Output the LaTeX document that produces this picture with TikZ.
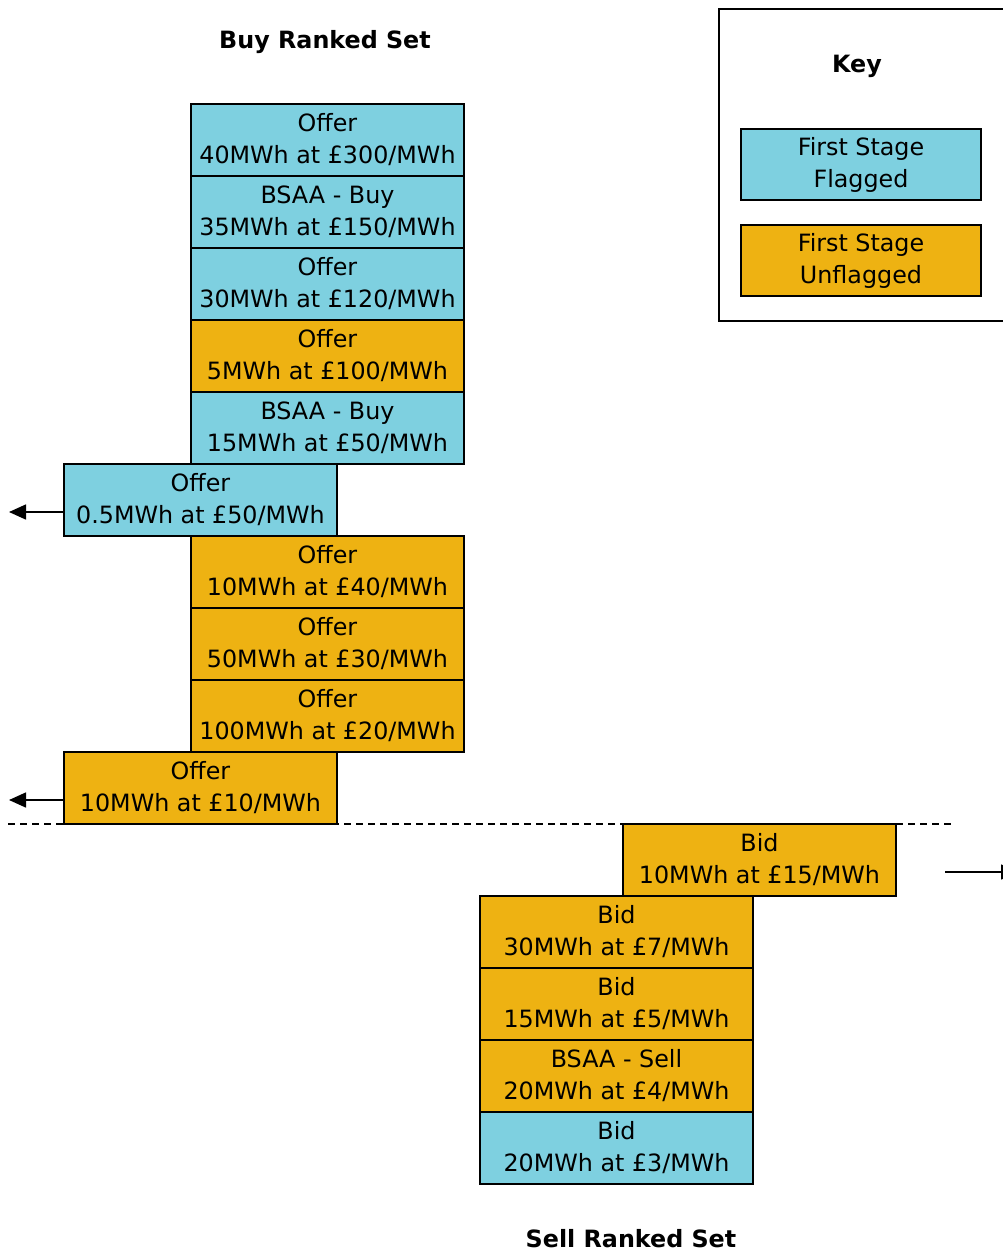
\documentclass[tikz,border=0pt]{standalone}
\usepackage{fontspec}
\setmainfont{DejaVu Sans}
\usetikzlibrary{arrows.meta}
\definecolor{flagged}{RGB}{126,208,224}
\definecolor{unflagged}{RGB}{238,178,18}
\begin{document}
\begin{tikzpicture}[x=1pt,y=-1pt,
  lbl/.style={font=\fontsize{23.8}{32}\selectfont, align=center},
  entry/.style={lbl, draw=black, line width=2pt, anchor=north west,
    minimum width=273pt, minimum height=72pt, inner sep=0pt},
  fl/.style={entry, fill=flagged},
  uf/.style={entry, fill=unflagged},
  keybox/.style={entry, minimum width=240pt, minimum height=71pt},
  title/.style={font=\bfseries\fontsize{23.8}{28}\selectfont},
  outarrow/.style={line width=1.5pt, -{Triangle[length=17pt,width=15pt]}}
]
\useasboundingbox (0,0) rectangle (1003,1254);

% Titles
\node[title] (buyt) at (325,42) {Buy Ranked Set};
\node[title] (sellt) at (631,1239) {Sell Ranked Set};

% Buy ranked set
\node[fl] (b1) at (190,103) {Offer\\40MWh at £300/MWh};
\node[fl] (b2) at (190,175) {BSAA - Buy\\35MWh at £150/MWh};
\node[fl] (b3) at (190,247) {Offer\\30MWh at £120/MWh};
\node[uf] (b4) at (190,319) {Offer\\5MWh at £100/MWh};
\node[fl] (b5) at (190,391) {BSAA - Buy\\15MWh at £50/MWh};
\node[fl] (b6) at (63,463) {Offer\\0.5MWh at £50/MWh};
\node[uf] (b7) at (190,535) {Offer\\10MWh at £40/MWh};
\node[uf] (b8) at (190,607) {Offer\\50MWh at £30/MWh};
\node[uf] (b9) at (190,679) {Offer\\100MWh at £20/MWh};
\node[uf] (b10) at (63,751) {Offer\\10MWh at £10/MWh};

% Divider between the two sets
\coordinate (dl) at (8,824);
\coordinate (dr) at (955,824);
\draw[line width=1.5pt, dash pattern=on 7pt off 5pt] (dl) -- (dr);

% Sell ranked set
\node[uf] (s1) at (622,823) {Bid\\10MWh at £15/MWh};
\node[uf] (s2) at (479,895) {Bid\\30MWh at £7/MWh};
\node[uf] (s3) at (479,967) {Bid\\15MWh at £5/MWh};
\node[uf] (s4) at (479,1039) {BSAA - Sell\\20MWh at £4/MWh};
\node[fl] (s5) at (479,1111) {Bid\\20MWh at £3/MWh};

% Arrows for entries that leave the set
\coordinate (a1) at (9,512);
\coordinate (a2) at (9,800);
\draw[outarrow] (b6.west |- a1) -- (a1);
\draw[outarrow] (b10.west |- a2) -- (a2);
\coordinate (r0) at (945,872);
\coordinate (r1) at (1018,872);
\draw[outarrow] (r0) -- (r1);

% Key
\node[draw=black, line width=2pt, anchor=north west, minimum width=300pt,
  minimum height=312pt, inner sep=0pt] (key) at (718,8) {};
\node[title] (keyt) at (857,66) {Key};
\node[keybox, fill=flagged] (k1) at (740,128) {First Stage\\Flagged};
\node[keybox, fill=unflagged] (k2) at (740,224) {First Stage\\Unflagged};
\end{tikzpicture}
\end{document}
